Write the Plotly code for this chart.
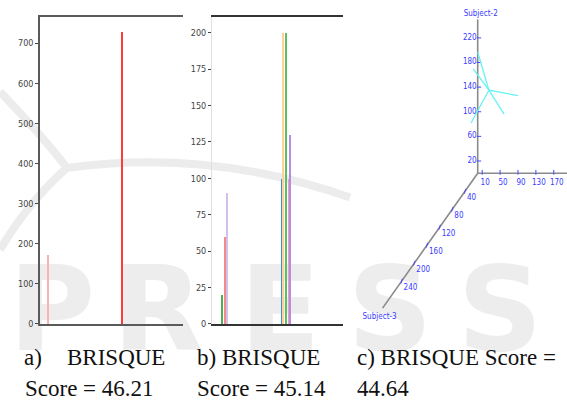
import plotly.graph_objects as go

W, H = 567, 401

# ---- panel a: single-channel intensity histogram ----
a_levels = [14, 147]
a_counts = [172, 728]
a_colors = ["#ffb0b0", "#ff3a3a"]
a_yticks = [0, 100, 200, 300, 400, 500, 600, 700]

# ---- panel b: per-channel intensity histogram ----
b_levels = [19.5, 25.4, 29.3, 136.8, 139.7, 144.6, 150.5, 153.4]
b_counts = [20, 60, 90, 100, 200, 200, 100, 130]
b_colors = ["#4caf50", "#f28a8a", "#d2c0ec", "#3f8fd2",
            "#ffcf9e", "#5cc05c", "#f0a0b8", "#b48ee0"]
b_yticks = [0, 25, 50, 75, 100, 125, 150, 175, 200]

# ---- panel c: 3-D scatter of subjects ----
s1_ticks = [10, 50, 90, 130, 170]
s2_ticks = [20, 60, 100, 140, 180, 220]
s3_ticks = [40, 80, 120, 160, 200, 240]
s1_max, s2_max, s3_max = 200, 250, 300
star_center = (25, 135, 0)
star_s1 = [0, 0, 90, 59, 0]
star_s2 = [197, 180, 126, 96, 97]
star_s3 = [0, 14, 0, 0, 21]

# caption lines
cap_a = ["a)", "BRISQUE", "Score = 46.21"]
cap_b = ["b) BRISQUE", "Score = 45.14"]
cap_c = ["c) BRISQUE Score =", "44.64"]


def fx(px):
    return px / W


def fy(py):
    return 1 - py / H


# oblique projection for the 3-D axes (screen units, y up)
K1, K2, K3X, K3Y = 0.4475, 0.6235, 0.317, 0.455


def proj(s1, s2, s3):
    return K1 * s1 - K3X * s3, K2 * s2 - K3Y * s3


OX, OY = 477.7, 175.5  # screen position of the 3-D origin

BLUE = "#3a3aff"
TICKFONT = dict(family="Liberation Sans Narrow, DejaVu Sans Condensed", size=9, color="#444")

fig = go.Figure()

fig.add_trace(go.Bar(x=a_levels, y=a_counts, width=2.2, marker=dict(color=a_colors, line_width=0),
                     xaxis="x", yaxis="y", showlegend=False))
fig.add_trace(go.Bar(x=b_levels, y=b_counts, width=2.2, marker=dict(color=b_colors, line_width=0),
                     xaxis="x2", yaxis="y2", showlegend=False))

# 3-D axes lines
ax_x, ax_y = [], []
for end in [(s1_max, 0, 0), (0, s2_max, 0), (0, 0, s3_max)]:
    x0, y0 = proj(0, 0, 0)
    x1, y1 = proj(*end)
    ax_x += [x0, x1, None]
    ax_y += [y0, y1, None]
fig.add_trace(go.Scatter(x=ax_x, y=ax_y, mode="lines", line=dict(color="#8a8a8a", width=1.6),
                         xaxis="x3", yaxis="y3", showlegend=False, hoverinfo="skip"))

# tick marks
tk_x, tk_y = [], []
for v in s1_ticks:
    x, y = proj(v, 0, 0)
    tk_x += [x, x, None]
    tk_y += [y + 3.5, y - 1.5, None]
for v in s2_ticks:
    x, y = proj(0, v, 0)
    tk_x += [x - 1, x + 3.5, None]
    tk_y += [y, y, None]
for v in s3_ticks:
    x, y = proj(0, 0, v)
    tk_x += [x - 0.8, x + 0.8, None]
    tk_y += [y - 2.5, y + 2.5, None]
fig.add_trace(go.Scatter(x=tk_x, y=tk_y, mode="lines", line=dict(color="#4a4aff", width=1),
                         xaxis="x3", yaxis="y3", showlegend=False, hoverinfo="skip"))

LBLFONT = dict(family="Liberation Sans Narrow, DejaVu Sans Condensed", size=8, color=BLUE)
p1 = [proj(v, 0, 0) for v in s1_ticks]
fig.add_trace(go.Scatter(x=[p[0] + 3 for p in p1], y=[p[1] - 10 for p in p1], mode="text",
                         text=[str(v) for v in s1_ticks], textfont=LBLFONT,
                         xaxis="x3", yaxis="y3", showlegend=False, hoverinfo="skip"))
p2 = [proj(0, v, 0) for v in s2_ticks]
fig.add_trace(go.Scatter(x=[p[0] - 1 for p in p2], y=[p[1] for p in p2], mode="text",
                         textposition="middle left", text=[str(v) for v in s2_ticks], textfont=LBLFONT,
                         xaxis="x3", yaxis="y3", showlegend=False, hoverinfo="skip"))
p3 = [proj(0, 0, v) for v in s3_ticks]
fig.add_trace(go.Scatter(x=[p[0] + 2 for p in p3], y=[p[1] - 7 for p in p3], mode="text",
                         textposition="middle right", text=[str(v) for v in s3_ticks], textfont=LBLFONT,
                         xaxis="x3", yaxis="y3", showlegend=False, hoverinfo="skip"))

# axis names
n2 = proj(0, s2_max, 0)
n3 = proj(0, 0, s3_max)
fig.add_trace(go.Scatter(x=[n2[0] + 3, n3[0] - 3], y=[n2[1] + 5, n3[1] - 9], mode="text",
                         text=["Subject-2", "Subject-3"], textfont=LBLFONT,
                         xaxis="x3", yaxis="y3", showlegend=False, hoverinfo="skip"))

# data star
cx, cy = proj(*star_center)
st_x, st_y = [], []
for a, b, c in zip(star_s1, star_s2, star_s3):
    x, y = proj(a, b, c)
    st_x += [cx, x, None]
    st_y += [cy, y, None]
fig.add_trace(go.Scatter(x=st_x, y=st_y, mode="lines", line=dict(color="#66f2f2", width=1.3),
                         xaxis="x3", yaxis="y3", showlegend=False, hoverinfo="skip"))

# faint background lettering and arcs
shapes = []
for ch, xc in [("P", 52), ("R", 158), ("E", 280), ("S", 390), ("S", 500)]:
    shapes.append(dict(type="rect", xref="paper", yref="paper", layer="below",
                       x0=fx(xc - 50), x1=fx(xc + 50), y0=fy(350), y1=fy(260),
                       line=dict(width=0), fillcolor="rgba(0,0,0,0)",
                       label=dict(text=ch, textposition="middle center",
                                  font=dict(family="DejaVu Sans", size=118, color="#ededed", weight="bold"))))
for path in ["M 0,93 Q 40,135 67,170", "M 0,253 Q 28,205 67,170", "M 67,170 Q 210,150 350,200"]:
    pts = []
    for tok in path.split():
        if "," in tok:
            a, b = tok.split(",")
            pts.append(f"{fx(float(a)):.4f},{fy(float(b)):.4f}")
        else:
            pts.append(tok)
    shapes.append(dict(type="path", xref="paper", yref="paper", layer="below",
                       path=" ".join(pts), line=dict(color="#ececec", width=8)))

CAPFONT = dict(family="Liberation Serif, Times New Roman, serif", size=23, color="#111")
annotations = []
for txt, xp, yp in [(cap_a[0], 24, 362), (cap_a[1], 67, 362), (cap_a[2], 25, 393),
                    (cap_b[0], 197, 362), (cap_b[1], 197, 393),
                    (cap_c[0], 357, 362), (cap_c[1], 357, 393)]:
    annotations.append(dict(text=txt, xref="paper", yref="paper", x=fx(xp - 2), y=fy(yp),
                            xanchor="left", yanchor="middle", showarrow=False, font=CAPFONT))

fig.update_layout(
    width=W, height=H, margin=dict(l=0, r=0, t=0, b=0),
    paper_bgcolor="white", plot_bgcolor="rgba(0,0,0,0)",
    barmode="overlay", bargap=0, shapes=shapes, annotations=annotations,
    xaxis=dict(domain=[fx(40), fx(183)], range=[0, 256], showline=True, mirror=True,
               linecolor="#5a5a5a", linewidth=2, showticklabels=False, ticks="",
               showgrid=False, zeroline=False, fixedrange=True),
    yaxis=dict(domain=[fy(328), fy(17)], range=[0, 766], showline=True, linecolor="#5a5a5a",
               linewidth=1.5, tickvals=a_yticks, ticks="outside", ticklen=3, tickcolor="#444",
               tickfont=TICKFONT, showgrid=False, zeroline=False),
    xaxis2=dict(domain=[fx(212), fx(343)], range=[0, 256], showline=True, mirror=True,
                linecolor="#333", linewidth=1.5, showticklabels=False, ticks="",
                showgrid=False, zeroline=False, anchor="y2"),
    yaxis2=dict(domain=[fy(328), fy(17)], range=[0, 211], showline=True, linecolor="#e0e0e0",
                linewidth=1, tickvals=b_yticks, ticks="outside", ticklen=3, tickcolor="#444",
                tickfont=TICKFONT, showgrid=False, zeroline=False, anchor="x2"),
    xaxis3=dict(domain=[fx(340), 1], range=[340 - OX, W - OX], visible=False, anchor="y3"),
    yaxis3=dict(domain=[fy(340), 1], range=[OY - 340, OY], visible=False, anchor="x3"),
)

fig.write_html("out.html")
